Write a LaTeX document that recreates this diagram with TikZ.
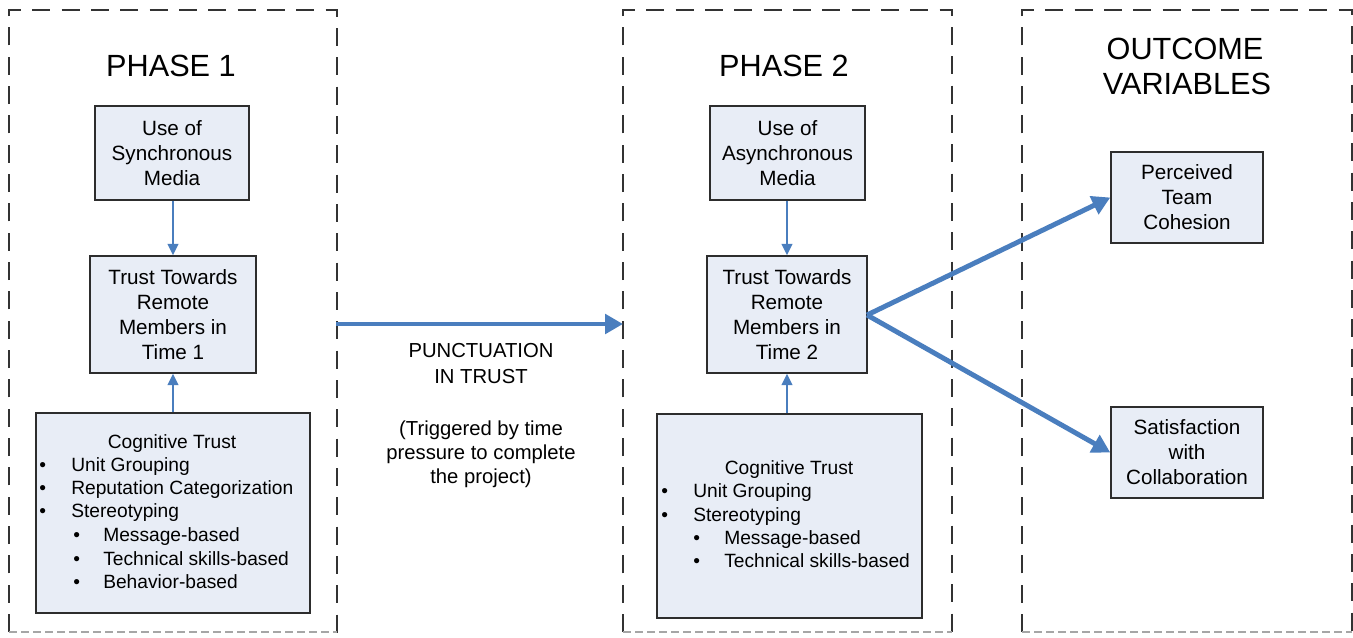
\documentclass[tikz,border=0pt]{standalone}
\usepackage{fontspec}
\setmainfont{Liberation Sans}
\usetikzlibrary{arrows.meta}
\definecolor{boxfill}{RGB}{232,237,246}
\definecolor{arrowblue}{RGB}{74,126,190}
\definecolor{boxline}{RGB}{45,45,45}
\begin{document}
\begin{tikzpicture}[x=0.75pt,y=-0.75pt,
  wh/.style 2 args={minimum width=#1*0.75pt, minimum height=#2*0.75pt},
  box/.style={draw=boxline, line width=1.1pt, fill=boxfill, align=center, inner sep=0pt,
              font=\fontsize{15.5}{18.75}\selectfont},
  frame/.style={draw=black!80, line width=1pt, dash pattern=on 13.5pt off 8.5pt},
  framebottom/.style={draw=black!35, line width=1pt, dash pattern=on 6pt off 3pt},
  title/.style={anchor=base, inner sep=0pt, font=\fontsize{23}{26}\selectfont},
  item/.style={anchor=base west, inner sep=0pt, font=\fontsize{14.4}{17}\selectfont},
  itemc/.style={anchor=base, inner sep=0pt, font=\fontsize{14.4}{17}\selectfont},
  note/.style={anchor=base, inner sep=0pt, font=\fontsize{15.2}{18}\selectfont},
  thin arrow/.style={draw=arrowblue, line width=1.5pt, -{Triangle[length=8.5pt,width=8pt]}},
  thick arrow/.style={draw=arrowblue, line width=3.7pt, -{Triangle[length=13.5pt,width=14.5pt]}}
]
\useasboundingbox (0,0) rectangle (1353,637);

% dashed frames
\draw[frame] (9,632) -- (9,10) -- (337,10) -- (337,637);
\draw[framebottom] (9,632) -- (337,632);
\draw[frame] (623,632) -- (623,10) -- (952,10) -- (952,637);
\draw[framebottom] (623,632) -- (952,632);
\draw[frame] (1022,632) -- (1022,10) -- (1352,10) -- (1352,637);
\draw[framebottom] (1022,632) -- (1352,632);

% titles
\node[title] (t1) at (171,76) {PHASE 1};
\node[title] (t2) at (784,76) {PHASE 2};
\node[title] (t3a) at (1185,59) {OUTCOME};
\node[title] (t3b) at (1187,94) {VARIABLES};

% phase 1 boxes
\node[box, wh={154}{94}] (syn) at (172,153) {Use of\\Synchronous\\Media};
\node[box, wh={166}{117}] (tr1) at (173,314.5) {Trust Towards\\Remote\\Members in\\Time 1};
\node[box, wh={274}{200}] (ct1) at (173,513) {};

\node[itemc] (c1h) at (172,448) {Cognitive Trust};
\node[item] (c1b1) at (39,471) {\textbullet};
\node[item] (c1i1) at (71,471) {Unit Grouping};
\node[item] (c1b2) at (39,494) {\textbullet};
\node[item] (c1i2) at (71,494) {Reputation Categorization};
\node[item] (c1b3) at (39,517) {\textbullet};
\node[item] (c1i3) at (71,517) {Stereotyping};
\node[item] (c1b4) at (73,541) {\textbullet};
\node[item] (c1i4) at (103,541) {Message-based};
\node[item] (c1b5) at (73,565) {\textbullet};
\node[item] (c1i5) at (103,565) {Technical skills-based};
\node[item] (c1b6) at (73,588) {\textbullet};
\node[item] (c1i6) at (103,588) {Behavior-based};

% phase 2 boxes
\node[box, wh={155}{94}] (asyn) at (787.5,153) {Use of\\Asynchronous\\Media};
\node[box, wh={160}{117}] (tr2) at (787,314.5) {Trust Towards\\Remote\\Members in\\Time 2};
\node[box, wh={265}{204}] (ct2) at (789.5,516) {};

\node[itemc] (c2h) at (789,474) {Cognitive Trust};
\node[item] (c2b1) at (661,497) {\textbullet};
\node[item] (c2i1) at (693,497) {Unit Grouping};
\node[item] (c2b2) at (661,521) {\textbullet};
\node[item] (c2i2) at (693,521) {Stereotyping};
\node[item] (c2b3) at (693,544) {\textbullet};
\node[item] (c2i3) at (724,544) {Message-based};
\node[item] (c2b4) at (693,567) {\textbullet};
\node[item] (c2i4) at (724,567) {Technical skills-based};

% outcome boxes
\node[box, wh={152}{91}] (coh) at (1187,197.5) {Perceived\\Team\\Cohesion};
\node[box, wh={152}{91}] (sat) at (1187,452.5) {Satisfaction\\with\\Collaboration};

% punctuation text
\node[note] (p1) at (481,357) {PUNCTUATION};
\node[note] (p2) at (481,383) {IN TRUST};
\node[note] (p3) at (481,435) {(Triggered by time};
\node[note] (p4) at (481,459) {pressure to complete};
\node[note] (p5) at (481,483) {the project)};

% connectors
\draw[thin arrow] (syn.south -| tr1.north) -- (tr1.north);
\draw[thin arrow] (ct1.north -| tr1.south) -- (tr1.south);
\draw[thin arrow] (asyn.south -| tr2.north) -- (tr2.north);
\draw[thin arrow] (ct2.north -| tr2.south) -- (tr2.south);

\coordinate (pstart) at (336,324);
\coordinate (pend) at (623,324);
\draw[thick arrow] (pstart) -- (pend);

\coordinate (split) at (867,315);
\draw[thick arrow] (split) -- (coh.west);
\draw[thick arrow] (split) -- (sat.west);
\end{tikzpicture}
\end{document}
